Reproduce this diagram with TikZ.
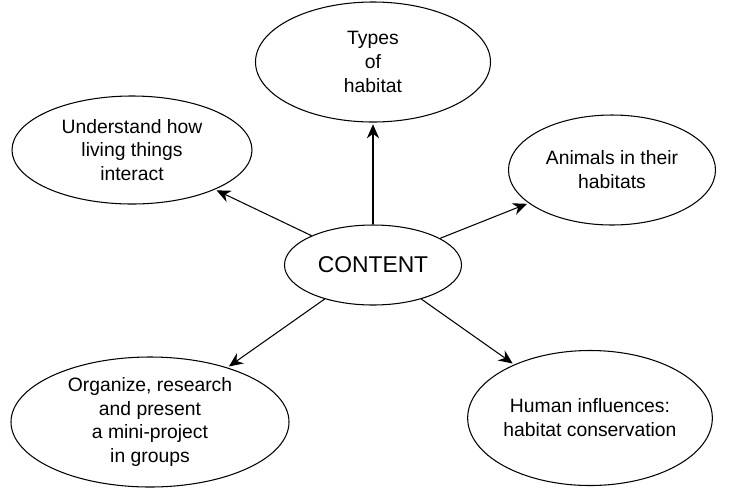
\documentclass[tikz,border=0pt]{standalone}
\usepackage{fontspec}
\setmainfont{Liberation Sans}
\usetikzlibrary{shapes.geometric,positioning,arrows.meta}

\begin{document}
\begin{tikzpicture}[>={Stealth[length=8pt,width=7pt]},shorten >=1pt,on grid,semithick,
    topic/.style={ellipse,draw,align=center,inner sep=0pt,
      font=\fontsize{11}{13.6}\selectfont}]
  \useasboundingbox (-7.46,-4.5) rectangle (7.12,5.3);
  \path
  node[ellipse,draw,minimum width=3.54cm,minimum height=1.6cm,
    font=\fontsize{13}{15}\selectfont] (content) {CONTENT}
  node[topic,minimum width=4.7cm,minimum height=2.4cm,
    above=4.06cm of content] (types) {Types\\of\\habitat}
  node[topic,minimum width=4.8cm,minimum height=2.16cm,
    above left=2.3cm and 4.82cm of content] (interact)
    {Understand how\\living things\\interact}
  node[topic,minimum width=4.14cm,minimum height=2.2cm,
    above right=1.9cm and 4.78cm of content] (animals)
    {Animals in their\\habitats}
  node[topic,minimum width=5.56cm,minimum height=2.6cm,
    below left=3.14cm and 4.46cm of content] (project)
    {Organize, research\\and present\\a mini-project\\in groups}
  node[topic,minimum width=4.88cm,minimum height=2.7cm,
    below right=3.06cm and 4.34cm of content] (human)
    {Human influences:\\habitat conservation}
  ;
  \path[->]
  (content) edge (types)
  (content) edge (interact)
  (content) edge (animals)
  (content) edge (project)
  (content) edge (human)
  ;
\end{tikzpicture}
\end{document}
